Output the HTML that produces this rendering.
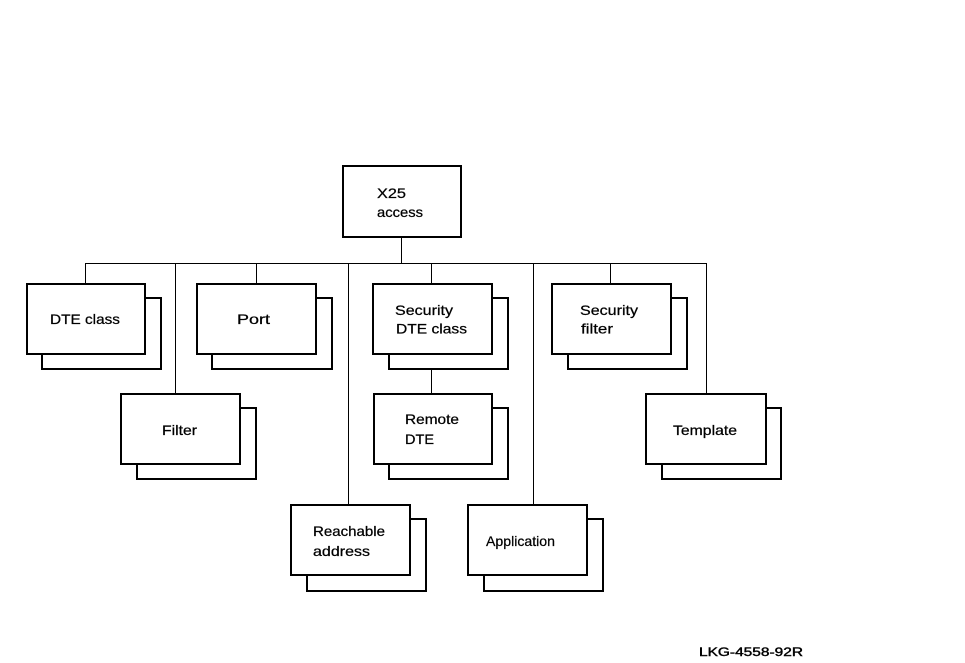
<!DOCTYPE html>
<html>
<head>
<meta charset="utf-8">
<style>
  html, body { margin: 0; padding: 0; background: #fff; }
  body { width: 965px; height: 663px; overflow: hidden; }
  svg { display: block; }
  text { font-family: "Liberation Sans", Arial, sans-serif; font-size: 14px; fill: #000; stroke: #000; stroke-width: 0.25; }
</style>
</head>
<body>
<svg width="965" height="663" viewBox="0 0 965 663" xmlns="http://www.w3.org/2000/svg">
  <rect x="0" y="0" width="965" height="663" fill="#fff"/>

  <!-- connectors -->
  <g stroke="#000" stroke-width="1" fill="none" shape-rendering="crispEdges">
    <line x1="401.5" y1="237" x2="401.5" y2="263.5"/>
    <line x1="85" y1="263.5" x2="707" y2="263.5"/>
    <line x1="85.5" y1="263" x2="85.5" y2="284"/>
    <line x1="175.5" y1="263" x2="175.5" y2="394"/>
    <line x1="256.5" y1="263" x2="256.5" y2="284"/>
    <line x1="348.5" y1="263" x2="348.5" y2="505"/>
    <line x1="431.5" y1="263" x2="431.5" y2="284"/>
    <line x1="533.5" y1="263" x2="533.5" y2="505"/>
    <line x1="610.5" y1="263" x2="610.5" y2="284"/>
    <line x1="706.5" y1="263" x2="706.5" y2="394"/>
    <line x1="431.5" y1="369" x2="431.5" y2="394"/>
  </g>

  <!-- root box -->
  <rect x="343" y="166" width="118" height="71" fill="#fff" stroke="#000" stroke-width="2"/>
  <text x="377" y="198" textLength="29" lengthAdjust="spacingAndGlyphs">X25</text>
  <text x="377" y="217" textLength="46" lengthAdjust="spacingAndGlyphs">access</text>

  <g stroke="#000" stroke-width="2" fill="#fff">
    <!-- DTE class -->
    <rect x="42" y="298" width="119" height="71"/>
    <rect x="27" y="284" width="118" height="70"/>
    <!-- Port -->
    <rect x="212" y="298" width="120" height="71"/>
    <rect x="197" y="284" width="119" height="70"/>
    <!-- Security DTE class -->
    <rect x="389" y="298" width="119" height="71"/>
    <rect x="373" y="284" width="119" height="70"/>
    <!-- Security filter -->
    <rect x="568" y="298" width="119" height="71"/>
    <rect x="552" y="284" width="119" height="70"/>
    <!-- Filter -->
    <rect x="137" y="408" width="119" height="71"/>
    <rect x="121" y="394" width="119" height="70"/>
    <!-- Remote DTE -->
    <rect x="389" y="408" width="119" height="71"/>
    <rect x="374" y="394" width="118" height="70"/>
    <!-- Template -->
    <rect x="662" y="408" width="119" height="71"/>
    <rect x="646" y="394" width="120" height="70"/>
    <!-- Reachable address -->
    <rect x="307" y="519" width="119" height="72"/>
    <rect x="291" y="505" width="119" height="70"/>
    <!-- Application -->
    <rect x="484" y="519" width="119" height="72"/>
    <rect x="468" y="505" width="119" height="70"/>
  </g>

  <!-- labels -->
  <text x="50" y="324" textLength="70" lengthAdjust="spacingAndGlyphs">DTE class</text>
  <text x="237" y="324" textLength="33" lengthAdjust="spacingAndGlyphs">Port</text>
  <text x="395" y="315" textLength="58" lengthAdjust="spacingAndGlyphs">Security</text>
  <text x="396" y="333.5" textLength="71" lengthAdjust="spacingAndGlyphs">DTE class</text>
  <text x="580" y="315" textLength="58" lengthAdjust="spacingAndGlyphs">Security</text>
  <text x="581" y="333.5" textLength="32" lengthAdjust="spacingAndGlyphs">filter</text>
  <text x="162" y="435" textLength="35" lengthAdjust="spacingAndGlyphs">Filter</text>
  <text x="405" y="424" textLength="54" lengthAdjust="spacingAndGlyphs">Remote</text>
  <text x="405" y="444" textLength="29" lengthAdjust="spacingAndGlyphs">DTE</text>
  <text x="673" y="435" textLength="64" lengthAdjust="spacingAndGlyphs">Template</text>
  <text x="313" y="536" textLength="72" lengthAdjust="spacingAndGlyphs">Reachable</text>
  <text x="313" y="556" textLength="57" lengthAdjust="spacingAndGlyphs">address</text>
  <text x="486" y="546" textLength="69" lengthAdjust="spacingAndGlyphs">Application</text>

  <text x="699" y="656" style="font-size:11.5px;stroke-width:0.4" textLength="104" lengthAdjust="spacingAndGlyphs">LKG-4558-92R</text>
</svg>
</body>
</html>
